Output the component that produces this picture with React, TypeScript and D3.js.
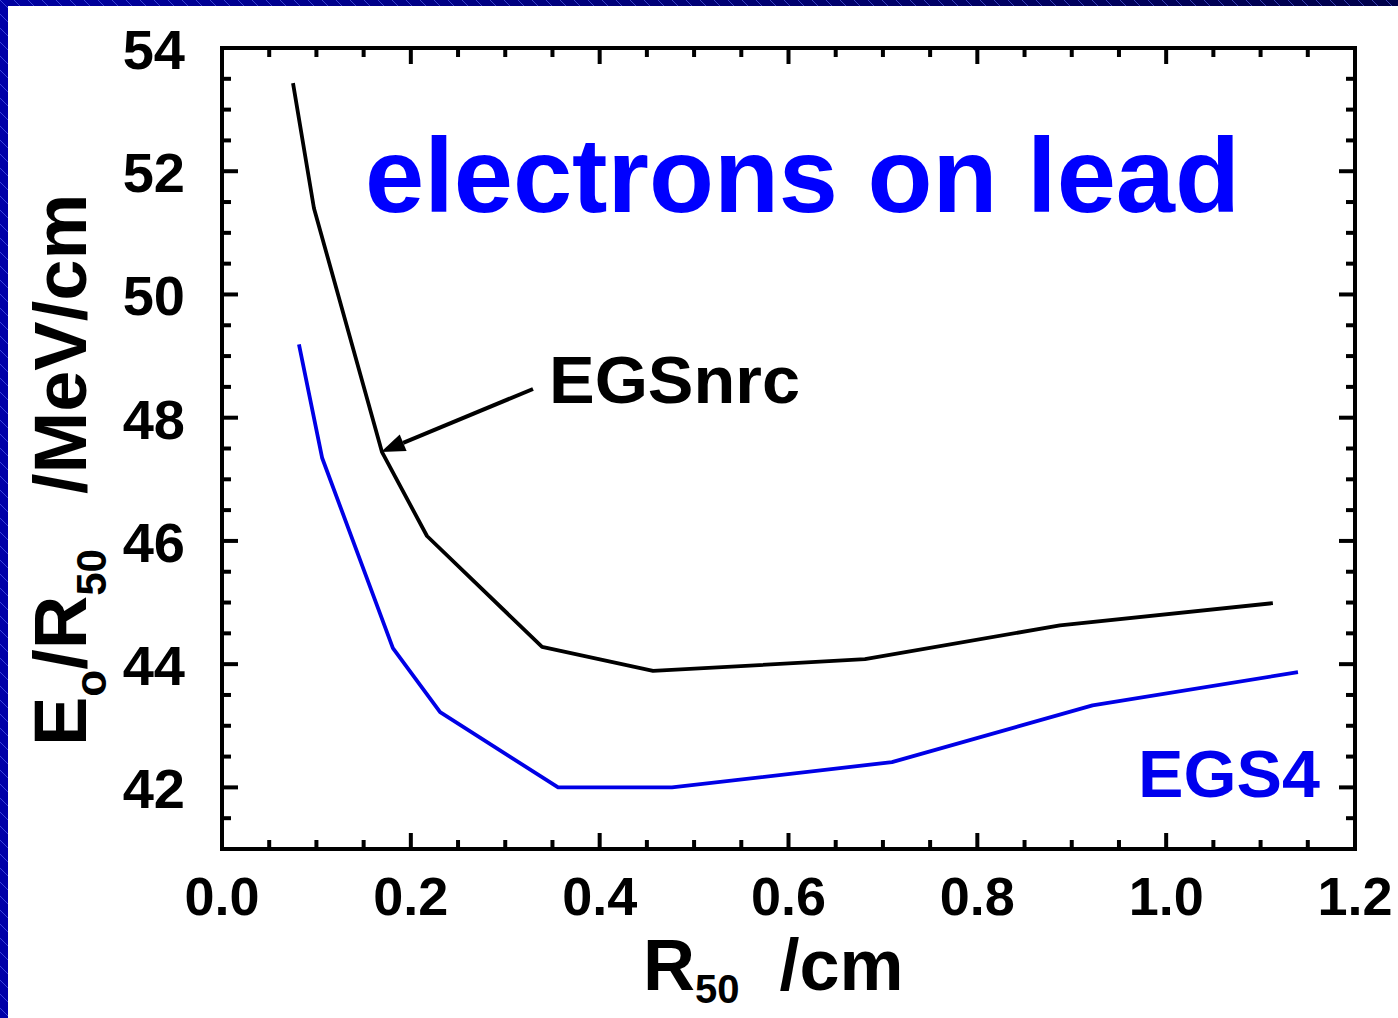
import React from "react";
import * as d3 from "d3";

// E0/R50 vs R50 for electrons on lead
const egsnrcR50 = [0.0752, 0.0974, 0.1695, 0.2171, 0.339, 0.4565, 0.681, 0.8875, 1.113];
const egsnrcRatio = [53.43, 51.4, 47.44, 46.08, 44.28, 43.89, 44.08, 44.63, 44.99];

const egs4R50 = [0.0815, 0.106, 0.181, 0.231, 0.356, 0.4766, 0.7096, 0.922, 1.1396];
const egs4Ratio = [49.19, 47.35, 44.26, 43.22, 42.0, 42.0, 42.41, 43.33, 43.87];

const xTicks = [0.0, 0.2, 0.4, 0.6, 0.8, 1.0, 1.2];
const yTicks = [42, 44, 46, 48, 50, 52, 54];

const W = 1398;
const H = 1018;
const left = 222;
const right = 1355;
const top = 48;
const bottom = 849;
const font = "'Liberation Sans', Arial, Helvetica, sans-serif";

const App: React.FC = () => {
  const x = d3.scaleLinear().domain([0, 1.2]).range([left, right]);
  const y = d3.scaleLinear().domain([41, 54]).range([bottom, top]);

  const line = d3
    .line<[number, number]>()
    .x((d) => x(d[0]))
    .y((d) => y(d[1]));

  const egsnrc = egsnrcR50.map((v, i) => [v, egsnrcRatio[i]] as [number, number]);
  const egs4 = egs4R50.map((v, i) => [v, egs4Ratio[i]] as [number, number]);

  // minor ticks
  const xMinor = d3.range(0, 1.2001, 0.05).filter((v) => Math.abs(v * 5 - Math.round(v * 5)) > 1e-6);
  const yMinor = d3.range(41, 54.001, 0.5).filter((v) => Math.abs(v / 2 - Math.round(v / 2)) > 1e-6);

  // arrow pointing at the EGSnrc curve
  const ax1 = 533, ay1 = 389, ax2 = 381, ay2 = 452;
  const ang = Math.atan2(ay2 - ay1, ax2 - ax1);
  const hl = 24, hw = 9;
  const bx = ax2 - hl * Math.cos(ang), by = ay2 - hl * Math.sin(ang);
  const head = [
    [ax2, ay2],
    [bx + hw * Math.sin(ang), by - hw * Math.cos(ang)],
    [bx - hw * Math.sin(ang), by + hw * Math.cos(ang)],
  ];

  const tickW = 4;

  return (
    <svg
      width={W}
      height={H}
      style={{ position: "absolute", left: 0, top: 0, background: "#fff" }}
      fontFamily={font}
    >
      <defs>
        <linearGradient id="topGrad" x1="0" x2="1" y1="0" y2="0">
          <stop offset="0" stopColor="#0000a0" />
          <stop offset="1" stopColor="#00004a" />
        </linearGradient>
        <pattern id="hatch" width="14" height="14" patternUnits="userSpaceOnUse">
          <line x1="0" y1="0" x2="14" y2="14" stroke="#6a78ff" strokeOpacity="0.55" strokeWidth="1" />
        </pattern>
      </defs>

      <rect x={0} y={0} width={W} height={H} fill="#fff" />
      {/* slide border */}
      <rect x={0} y={0} width={W} height={6} fill="url(#topGrad)" />
      <rect x={0} y={0} width={W} height={6} fill="url(#hatch)" />
      <rect x={0} y={0} width={8} height={H} fill="#0000a8" />
      <rect x={0} y={0} width={8} height={H} fill="url(#hatch)" />

      {/* frame */}
      <rect
        x={left}
        y={top}
        width={right - left}
        height={bottom - top}
        fill="none"
        stroke="#000"
        strokeWidth={4}
      />

      {/* x ticks */}
      {xTicks.map((t) => (
        <g key={"xt" + t}>
          <line x1={x(t)} x2={x(t)} y1={bottom} y2={bottom - 16} stroke="#000" strokeWidth={tickW} />
          <line x1={x(t)} x2={x(t)} y1={top} y2={top + 16} stroke="#000" strokeWidth={tickW} />
          <text
            x={x(t)}
            y={915}
            textAnchor="middle"
            fontSize={54}
            fontWeight="bold"
          >
            {t.toFixed(1)}
          </text>
        </g>
      ))}
      {xMinor.map((t) => (
        <g key={"xm" + t}>
          <line x1={x(t)} x2={x(t)} y1={bottom} y2={bottom - 9} stroke="#000" strokeWidth={tickW} />
          <line x1={x(t)} x2={x(t)} y1={top} y2={top + 9} stroke="#000" strokeWidth={tickW} />
        </g>
      ))}

      {/* y ticks */}
      {yTicks.map((t) => (
        <g key={"yt" + t}>
          <line x1={left} x2={left + 16} y1={y(t)} y2={y(t)} stroke="#000" strokeWidth={tickW} />
          <line x1={right} x2={right - 16} y1={y(t)} y2={y(t)} stroke="#000" strokeWidth={tickW} />
          <text
            x={185}
            y={y(t) + 21}
            textAnchor="end"
            fontSize={56}
            fontWeight="bold"
          >
            {t}
          </text>
        </g>
      ))}
      {yMinor.map((t) => (
        <g key={"ym" + t}>
          <line x1={left} x2={left + 9} y1={y(t)} y2={y(t)} stroke="#000" strokeWidth={tickW} />
          <line x1={right} x2={right - 9} y1={y(t)} y2={y(t)} stroke="#000" strokeWidth={tickW} />
        </g>
      ))}

      {/* curves */}
      <path d={line(egsnrc) ?? ""} fill="none" stroke="#000" strokeWidth={3.8} strokeLinejoin="round" />
      <path d={line(egs4) ?? ""} fill="none" stroke="#0000e6" strokeWidth={3.8} strokeLinejoin="round" />

      {/* arrow + labels */}
      <line x1={ax1} y1={ay1} x2={bx} y2={by} stroke="#000" strokeWidth={4} />
      <polygon points={head.map((p) => p.join(",")).join(" ")} fill="#000" />

      <text x={549} y={403} fontSize={66} fontWeight="bold" fill="#000" textLength={251} lengthAdjust="spacingAndGlyphs">
        EGSnrc
      </text>
      <text x={1138} y={797} fontSize={66} fontWeight="bold" fill="#0000ee" textLength={182} lengthAdjust="spacingAndGlyphs">
        EGS4
      </text>
      <text x={365} y={212} fontSize={106} fontWeight="bold" fill="#0000ff" textLength={875} lengthAdjust="spacingAndGlyphs">
        electrons on lead
      </text>

      {/* axis titles */}
      <text x={643} y={990} fontSize={72} fontWeight="bold">
        R
        <tspan fontSize={40} dy={13}>50</tspan>
        <tspan dy={-13} dx={40}>/cm</tspan>
      </text>
      <g transform="translate(86,746) rotate(-90)">
        <text x={0} y={0} fontSize={74} fontWeight="bold">
          E
          <tspan fontSize={44} dy={20}>o</tspan>
          <tspan dy={-20}>/R</tspan>
          <tspan fontSize={42} dy={20}>50</tspan>
        </text>
        <text x={252} y={0} fontSize={74} fontWeight="bold">
          /MeV/cm
        </text>
      </g>
    </svg>
  );
};

export default App;
